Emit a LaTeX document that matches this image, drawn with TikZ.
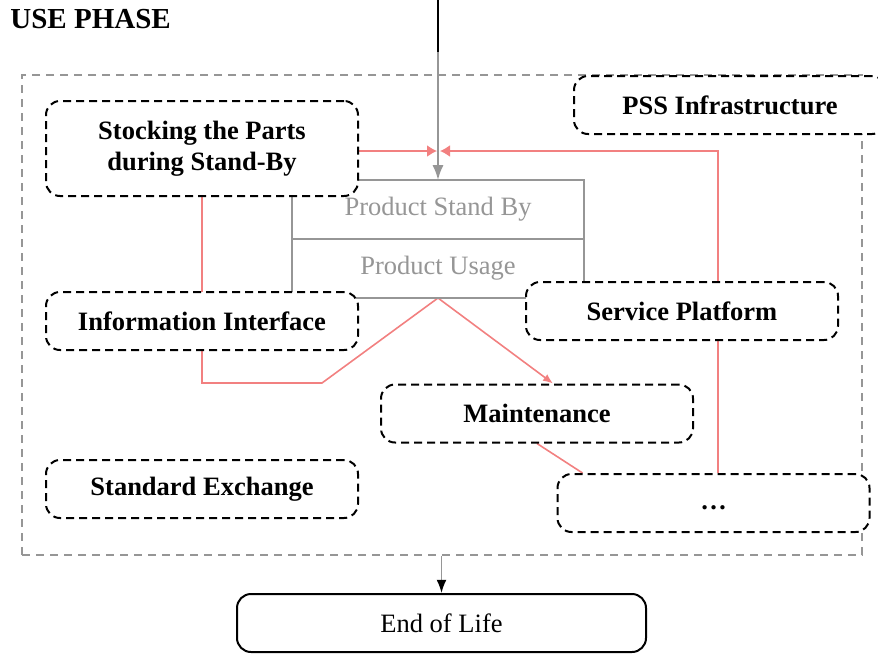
\documentclass[tikz,border=0pt]{standalone}
\usepackage{fontspec}
\setmainfont{Liberation Serif}
\usetikzlibrary{arrows.meta,backgrounds}
\definecolor{flowred}{RGB}{242,128,128}
\definecolor{stagegray}{RGB}{150,150,150}
\newcommand{\diagfont}{\fontsize{13.25}{15.5}\selectfont}
\tikzset{
  partbox/.style={draw,line width=1pt,dash pattern=on 4pt off 2.5pt,rounded corners=7pt,fill=white,font=\diagfont\bfseries,align=center,inner sep=0pt,minimum width=156pt,minimum height=29pt},
  stagebox/.style={draw=stagegray,line width=1pt,fill=white,text=stagegray,inner sep=0pt,outer sep=0pt,minimum width=146pt,minimum height=29.5pt},
  flow/.style={draw=flowred,line width=0.8pt},
}

\begin{document}
\begin{tikzpicture}[x=0.5pt,y=-0.5pt,font=\diagfont]
\useasboundingbox (0,0) rectangle (878,654);
% heading
\node[font=\fontsize{14.5}{17}\selectfont\bfseries,anchor=west,inner sep=0pt] (title) at (10,19) {USE PHASE};
% product states
\node[stagebox] (standby) at (438,209.5) {Product Stand By};
\node[stagebox,anchor=north] (usage) at (standby.south) {Product Usage};
% service elements
\node[partbox,minimum height=47.5pt] (stock) at (202,148.5) {Stocking the Parts\\during Stand-By};
\node[partbox] (pss) at (730,105) {PSS Infrastructure};
\node[partbox] (info) at (202,321) {Information Interface};
\node[partbox] (platform) at (682,311) {Service Platform};
\node[partbox] (maint) at (537,413.5) {Maintenance};
\node[partbox] (exchange) at (202,489) {Standard Exchange};
\node[partbox] (more) at (713.5,503) {\strut…};
\node[draw,line width=1pt,rounded corners=7pt,inner sep=0pt,minimum width=204.5pt,minimum height=29pt] (eol) at (441.5,623) {End of Life};
% helper points
\coordinate (feed) at (438,0);
\coordinate (feedsplit) at (438,52);
\coordinate (meet) at (438,151);
\coordinate (turn) at (718,151);
\coordinate (knee) at (322,383);
% incoming flow
\draw[line width=0.8pt] (feed) -- (feedsplit);
\draw[stagegray,line width=1pt,-{Latex}] (feedsplit) -- (standby.north);
\begin{scope}[on background layer]
\node[draw=stagegray,line width=0.8pt,dash pattern=on 4pt off 3pt,inner sep=0pt,minimum width=420pt,minimum height=240pt] (phase) at (442,315) {};
\draw[flow,-{Latex[length=5pt,width=6pt]}] (stock.east |- meet) -- ([xshift=-0.5pt]meet);
\draw[flow,-{Latex[length=5pt,width=6pt]}] (more.north -| turn) -- (turn) -- ([xshift=1pt]meet);
\draw[flow,-{Latex[length=5pt,width=4pt]}] (stock.south) |- (knee) -- (usage.south) -- ([xshift=8pt]maint.north);
\draw[flow] (maint.south) -- ([xshift=13pt]more.north west);
\end{scope}
% to end of life
\draw[stagegray,line width=0.8pt,-{Latex[black]}] (phase.south -| eol.north) -- (eol.north);
\end{tikzpicture}
\end{document}
